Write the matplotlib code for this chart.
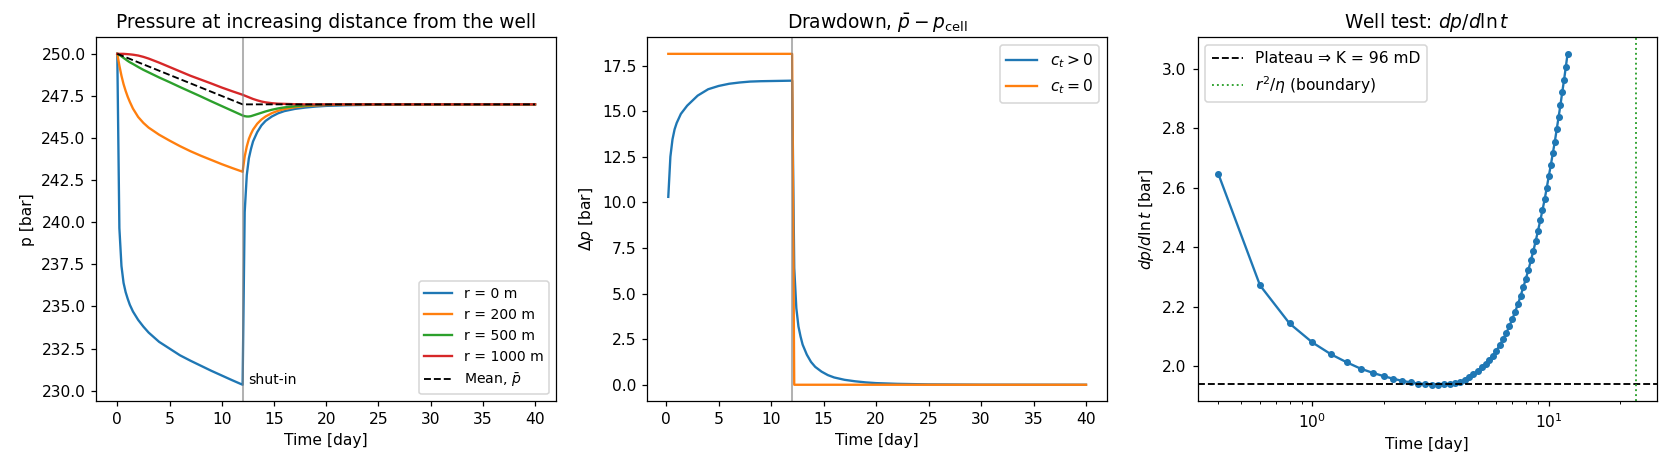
import numpy as np
import matplotlib
matplotlib.use("Agg")
import matplotlib.pyplot as plt

# time grid [day] used for the pressure curves (left panel)
t = [0, 0.2, 0.4, 0.6, 0.8, 1.0, 1.2, 1.5, 2, 2.5, 3, 4, 5, 6, 7, 8, 9, 10, 11, 12,
     12.2, 12.4, 12.6, 12.8, 13.0, 13.4, 13.8, 14.2, 14.8, 15.4, 16, 17, 18, 19, 20,
     22, 25, 30, 40]

p_r0 = [250.0, 239.65, 237.4, 236.4, 235.85, 235.45, 235.1, 234.7, 234.2, 233.8, 233.45,
        232.9, 232.5, 232.1, 231.78, 231.48, 231.18, 230.9, 230.62, 230.35,
        240.6, 242.8, 243.8, 244.35, 244.8, 245.35, 245.75, 246.02, 246.28, 246.47,
        246.6, 246.73, 246.81, 246.87, 246.91, 246.95, 246.98, 246.995, 247.0]
p_r200 = [250.0, 249.3, 248.7, 248.2, 247.8, 247.45, 247.15, 246.75, 246.25, 245.9, 245.62,
          245.2, 244.85, 244.52, 244.22, 243.95, 243.7, 243.45, 243.22, 243.0,
          243.9, 244.5, 244.95, 245.25, 245.5, 245.85, 246.1, 246.28, 246.48, 246.62,
          246.72, 246.83, 246.9, 246.94, 246.96, 246.99, 247.0, 247.0, 247.0]
p_r500 = [250.0, 249.94, 249.85, 249.76, 249.67, 249.58, 249.5, 249.4, 249.22, 249.05, 248.9,
          248.6, 248.32, 248.03, 247.75, 247.47, 247.18, 246.9, 246.62, 246.34,
          246.3, 246.28, 246.28, 246.3, 246.34, 246.42, 246.5, 246.58, 246.68, 246.76,
          246.82, 246.89, 246.94, 246.97, 246.98, 247.0, 247.0, 247.0, 247.0]
p_r1000 = [250.0, 250.0, 250.0, 250.0, 249.99, 249.98, 249.97, 249.95, 249.9, 249.82, 249.72,
           249.48, 249.22, 248.96, 248.7, 248.47, 248.24, 248.0, 247.78, 247.57,
           247.52, 247.47, 247.42, 247.37, 247.32, 247.24, 247.17, 247.12, 247.07, 247.04,
           247.03, 247.01, 247.0, 247.0, 247.0, 247.0, 247.0, 247.0, 247.0]

t_mean = [0, 12, 40]
p_mean = [250.0, 247.0, 247.0]

# drawdown (middle panel)
t_dd = [0.2, 0.4, 0.6, 0.8, 1.0, 1.4, 2, 3, 4, 5, 6, 7, 8, 9, 10, 11, 12,
        12.2, 12.4, 12.6, 12.8, 13.0, 13.4, 13.8, 14.2, 14.8, 15.4, 16, 17, 18, 19, 20,
        22, 25, 30, 40]
dp_ct = [10.3, 12.5, 13.45, 14.0, 14.35, 14.85, 15.3, 15.85, 16.2, 16.38, 16.5, 16.57, 16.62,
         16.64, 16.65, 16.66, 16.67,
         6.4, 4.2, 3.2, 2.65, 2.2, 1.65, 1.25, 0.98, 0.72, 0.53, 0.4, 0.27, 0.19, 0.13, 0.09,
         0.05, 0.02, 0.005, 0.0]
dp_ct0 = [18.14] * 17 + [0.0] * 19

# well test derivative (right panel)
t_wt = [0.4, 0.6, 0.8, 1.0, 1.2, 1.4, 1.6, 1.8, 2.0, 2.2, 2.4, 2.6, 2.8, 3.0, 3.2, 3.4, 3.6,
        3.8, 4.0, 4.2, 4.4, 4.6, 4.8, 5.0, 5.2, 5.4, 5.6, 5.8, 6.0, 6.2, 6.4, 6.6, 6.8,
        7.0, 7.2, 7.4, 7.6, 7.8, 8.0, 8.2, 8.4, 8.6, 8.8, 9.0, 9.2, 9.4, 9.6, 9.8, 10.0,
        10.2, 10.4, 10.6, 10.8, 11.0, 11.2, 11.4, 11.6, 11.8, 12.0]
dpdlnt = [2.646, 2.272, 2.144, 2.080, 2.040, 2.013, 1.992, 1.978, 1.967, 1.958, 1.951, 1.946,
          1.942, 1.940, 1.938, 1.938, 1.939, 1.941, 1.944, 1.948, 1.954, 1.963, 1.974,
          1.985, 1.996, 2.008, 2.021, 2.036, 2.053, 2.071, 2.091, 2.111, 2.134,
          2.158, 2.183, 2.209, 2.237, 2.266, 2.295, 2.325, 2.356, 2.388, 2.421, 2.456,
          2.490, 2.525, 2.561, 2.600, 2.640, 2.677, 2.717, 2.755, 2.797, 2.838, 2.879,
          2.922, 2.963, 3.006, 3.050]
plateau = 1.940
t_boundary = 23.4

t_shut = 12

DPI = 112
W, H = 1668, 468
fig = plt.figure(figsize=(W / DPI, H / DPI), dpi=DPI)
bot, hgt, wid = (H - 401.3) / H, 364 / H, 459.5 / W
ax1 = fig.add_axes([96.4 / W, bot, wid, hgt])
ax2 = fig.add_axes([647.4 / W, bot, wid, hgt])
ax3 = fig.add_axes([1197.5 / W, bot, wid, hgt])

# left: pressure
ax1.plot(t, p_r0, label='r = 0 m')
ax1.plot(t, p_r200, label='r = 200 m')
ax1.plot(t, p_r500, label='r = 500 m')
ax1.plot(t, p_r1000, label='r = 1000 m')
ax1.plot(t_mean, p_mean, 'k--', lw=1.2, label=r'Mean, $\bar{p}$')
ax1.axvline(t_shut, color='gray', alpha=0.6, lw=1.3)
ax1.text(t_shut + 0.5, p_r0[19] + 0.3, 'shut-in', fontsize=9, va='center')
ax1.set_xlabel('Time [day]')
ax1.set_ylabel('p [bar]')
ax1.set_title('Pressure at increasing distance from the well')
ax1.legend(loc='lower right', fontsize=9)

# middle: drawdown
ax2.plot(t_dd, dp_ct, label=r'$c_t > 0$')
ax2.plot(t_dd, dp_ct0, label=r'$c_t = 0$')
ax2.axvline(t_shut, color='gray', alpha=0.6, lw=1.3)
ax2.set_xlabel('Time [day]')
ax2.set_ylabel(r'$\Delta p$ [bar]')
ax2.set_title(r'Drawdown, $\bar{p} - p_\mathrm{cell}$')
ax2.legend(loc='upper right')

# right: well test
ax3.semilogx(t_wt, dpdlnt, 'o-', ms=3.5)
ax3.axhline(plateau, color='k', ls='--', lw=1.2, label='Plateau ⇒ K = 96 mD')
ax3.axvline(t_boundary, color='tab:green', ls=':', lw=1.2, label=r'$r^2/\eta$ (boundary)')
ax3.set_xlabel('Time [day]')
ax3.set_ylabel(r'$dp/d\ln t$ [bar]')
ax3.set_title(r'Well test: $dp/d\ln t$')
ax3.legend(loc='upper left')

fig.savefig('out.png', dpi=DPI)
